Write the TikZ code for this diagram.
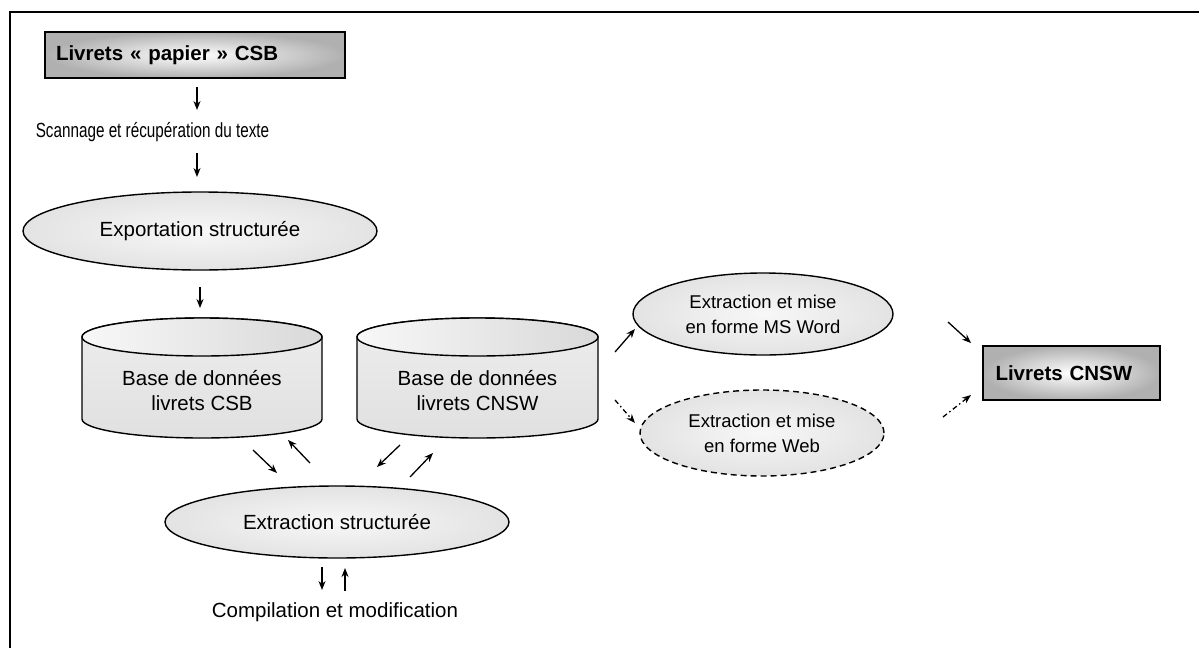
\documentclass[tikz,border=0pt]{standalone}
\usepackage{fontspec}
\setmainfont{Liberation Sans}
\usetikzlibrary{arrows.meta,shapes.geometric}
\begin{document}
\begin{tikzpicture}[x=1pt,y=-1pt,
  every node/.style={font=\fontsize{20.5}{25}\selectfont},
  arr/.style={-{Stealth[length=9pt,width=7pt]}, line width=1.3pt},
  dotarr/.style={arr, dash pattern=on 5pt off 3pt on 1.5pt off 3pt},
  docbox/.style={draw, line width=1.3pt, shading=radial, outer color=gray!62, inner color=white,
    minimum height=46pt, inner sep=0pt, font=\fontsize{20.5}{25}\selectfont\bfseries},
  procell/.style={ellipse, draw, line width=1.4pt, shading=radial, outer color=gray!22, inner color=gray!6,
    inner sep=0pt, align=center},
  smalltext/.style={font=\fontsize{18.5}{25}\selectfont},
  cylbody/.style={draw, line width=1.4pt, top color=gray!14, bottom color=gray!24},
  cyltop/.style={draw, line width=1.4pt, left color=gray!6, right color=gray!30},
  frameline/.style={line width=2pt}
]
\useasboundingbox (0,0) rectangle (1199,648);
% frame
\coordinate (fa) at (1199,12);
\coordinate (fb) at (10,12);
\coordinate (fc) at (10,648);
\draw[frameline] (fa) -- (fb) -- (fc);

% top box
\node[docbox, minimum width=300pt, text width=278pt, align=left] (paper) at (195,55) {Livrets « papier » CSB};
\coordinate (a1s) at (197,87); \coordinate (a1e) at (197,110);
\draw[arr] (a1s) -- (a1e);
\node[inner sep=0pt] (scan) at (152.5,132) {\scalebox{0.745}[1]{Scannage et récupération du texte}};
\coordinate (a2s) at (197,153); \coordinate (a2e) at (197,177);
\draw[arr] (a2s) -- (a2e);
\node[procell, minimum width=354pt, minimum height=78pt] (export) at (200,231) {Exportation structurée};
\coordinate (a3s) at (200,287); \coordinate (a3e) at (200,308);
\draw[arr] (a3s) -- (a3e);

% cylinder CSB
\path[cylbody] (82,337) -- (82,419) arc[start angle=180,end angle=0,x radius=120,y radius=19]
  -- (322,337) arc[start angle=0,end angle=-180,x radius=120,y radius=19] -- cycle;
\path[cyltop] (202,337) ellipse[x radius=120,y radius=19];
\node[align=center] (dbcsb) at (202,391) {Base de données\\livrets CSB};

% cylinder CNSW
\path[cylbody] (357,337) -- (357,419) arc[start angle=180,end angle=0,x radius=120.5,y radius=19]
  -- (598,337) arc[start angle=0,end angle=-180,x radius=120.5,y radius=19] -- cycle;
\path[cyltop] (477.5,337) ellipse[x radius=120.5,y radius=19];
\node[align=center] (dbcnsw) at (477.5,391) {Base de données\\livrets CNSW};

% arrows around extraction
\coordinate (b1s) at (253,450); \coordinate (b1e) at (277,473);
\coordinate (b2s) at (310,463); \coordinate (b2e) at (288,440);
\coordinate (b3s) at (400,445); \coordinate (b3e) at (377,467);
\coordinate (b4s) at (410,477); \coordinate (b4e) at (433,453);
\draw[arr] (b1s) -- (b1e);
\draw[arr] (b2s) -- (b2e);
\draw[arr] (b3s) -- (b3e);
\draw[arr] (b4s) -- (b4e);

\node[procell, minimum width=344pt, minimum height=72pt] (extract) at (337,522) {Extraction structurée};
\coordinate (c1s) at (322,567); \coordinate (c1e) at (322,590);
\coordinate (c2s) at (345,591); \coordinate (c2e) at (345,568);
\draw[arr] (c1s) -- (c1e);
\draw[arr] (c2s) -- (c2e);
\node (compil) at (335,612) {Compilation et modification};

% right part
\node[procell, smalltext, minimum width=260pt, minimum height=82pt] (word) at (763,314) {Extraction et mise\\en forme MS Word};
\node[procell, smalltext, dash pattern=on 6pt off 4pt, minimum width=244pt, minimum height=86pt] (web) at (762,433) {Extraction et mise\\en forme Web};
\coordinate (d1s) at (615,352); \coordinate (d1e) at (635,329);
\coordinate (d2s) at (615,400); \coordinate (d2e) at (635,423);
\coordinate (d3s) at (948,322); \coordinate (d3e) at (971,343);
\coordinate (d4s) at (943,417); \coordinate (d4e) at (971,395);
\draw[arr] (d1s) -- (d1e);
\draw[dotarr] (d2s) -- (d2e);
\draw[arr] (d3s) -- (d3e);
\draw[dotarr] (d4s) -- (d4e);

\node[docbox, minimum width=177pt, text width=154pt, align=left, minimum height=54pt] (cnsw) at (1071.5,373) {\hspace*{1pt}Livrets CNSW};
\end{tikzpicture}
\end{document}
